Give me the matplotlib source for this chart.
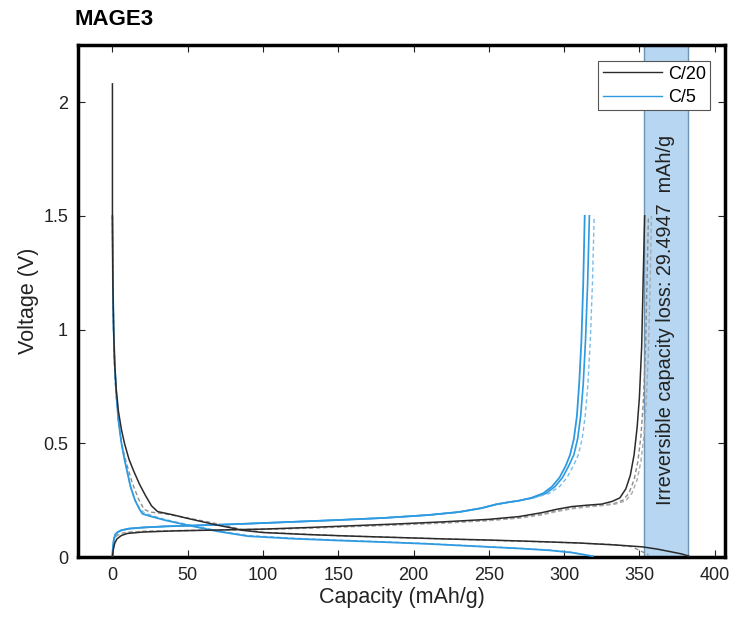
import matplotlib
matplotlib.use('Agg')
import matplotlib.pyplot as plt
from matplotlib.lines import Line2D

plt.rcParams['font.family'] = ['Liberation Sans', 'DejaVu Sans']

# C/20, cycle 1 (solid black)
c20_dis1_cap = [0, 0, 0.3, 0.8, 1.5, 2.5, 4, 6, 8, 11, 14, 18, 22, 26, 30, 40, 50, 60, 70, 80, 86,
                100, 130, 160, 190, 220, 250, 280, 310, 335, 352, 362, 372, 378, 383]
c20_dis1_v = [2.08, 1.5, 1.2, 1.0, 0.85, 0.74, 0.64, 0.56, 0.5, 0.43, 0.38, 0.32, 0.27, 0.225, 0.2, 0.186,
              0.17, 0.155, 0.14, 0.127, 0.118, 0.108, 0.099, 0.092, 0.086, 0.08, 0.075, 0.069, 0.062, 0.053,
              0.045, 0.035, 0.022, 0.014, 0.004]
c20_chg1_cap = [0, 0.5, 1.5, 3, 6, 10, 20, 40, 70, 100, 130, 160, 190, 220, 250, 270, 285, 295, 305,
                315, 325, 332, 337, 341, 344, 346.5, 348.5, 350, 351.5, 352.8, 353.5]
c20_chg1_v = [0.0, 0.03, 0.06, 0.08, 0.095, 0.104, 0.11, 0.115, 0.119, 0.123, 0.13, 0.138, 0.146, 0.155,
              0.166, 0.178, 0.195, 0.21, 0.222, 0.228, 0.233, 0.245, 0.26, 0.3, 0.36, 0.45, 0.57, 0.7,
              0.92, 1.3, 1.5]

# C/20, later cycles (dashed grey)
c20_dis2_cap = [0, 0.3, 1, 2, 4, 6, 9, 13, 17, 21, 25, 35, 50, 70, 86, 100, 150, 200, 250, 300, 330, 345, 356]
c20_dis2_v = [1.5, 1.2, 0.9, 0.75, 0.6, 0.5, 0.42, 0.33, 0.26, 0.21, 0.198, 0.19, 0.172, 0.146, 0.121,
              0.109, 0.094, 0.084, 0.074, 0.064, 0.056, 0.046, 0.01]
c20_chg2_cap = [0, 0.5, 1.5, 3, 6, 10, 20, 40, 70, 100, 130, 160, 190, 220, 250, 270, 285, 295, 305,
                315, 325, 333, 339, 343, 346.5, 349, 351, 352.5, 354, 355.2, 356]
c20_chg2_v = [0.0, 0.05, 0.08, 0.095, 0.104, 0.109, 0.113, 0.116, 0.119, 0.122, 0.128, 0.135, 0.143, 0.151,
              0.162, 0.173, 0.188, 0.203, 0.215, 0.222, 0.228, 0.235, 0.25, 0.28, 0.34, 0.42, 0.53, 0.67,
              0.9, 1.25, 1.5]
c20_chg3_cap = [0, 0.5, 1.5, 3, 6, 10, 20, 40, 70, 100, 130, 160, 190, 220, 250, 270, 285, 295, 305,
                315, 325, 334, 341, 345, 348.5, 351, 353, 354.5, 356, 357.3, 358]
c20_chg3_v = [0.0, 0.05, 0.08, 0.095, 0.104, 0.109, 0.113, 0.116, 0.119, 0.122, 0.127, 0.134, 0.141, 0.149,
              0.16, 0.171, 0.185, 0.2, 0.212, 0.22, 0.226, 0.233, 0.248, 0.28, 0.34, 0.42, 0.53, 0.67,
              0.9, 1.25, 1.5]

# C/5 cycles (blue)
c5_dis1_cap = [0, 0.3, 0.8, 1.5, 2.5, 4, 6, 8, 10, 12, 15, 18, 20, 25, 35, 50, 70, 90, 120, 150, 180,
               210, 240, 270, 290, 305, 319]
c5_dis1_v = [1.5, 1.2, 1.0, 0.85, 0.72, 0.6, 0.5, 0.43, 0.37, 0.31, 0.25, 0.21, 0.19, 0.18, 0.162, 0.14,
             0.113, 0.092, 0.081, 0.073, 0.066, 0.058, 0.048, 0.038, 0.03, 0.02, 0.004]
c5_chg1_cap = [0, 0.3, 1, 2, 3.5, 6, 11, 20, 35, 50, 70, 90, 120, 150, 180, 210, 230, 245, 255, 262,
               270, 278, 286, 292, 297, 301, 304, 306.5, 308.5, 310, 311.5, 312.7, 313.7]
c5_chg1_v = [0.0, 0.04, 0.08, 0.1, 0.11, 0.118, 0.125, 0.13, 0.135, 0.138, 0.142, 0.147, 0.155, 0.163,
             0.172, 0.185, 0.198, 0.215, 0.232, 0.24, 0.248, 0.26, 0.28, 0.31, 0.35, 0.4, 0.45, 0.52,
             0.62, 0.76, 0.95, 1.2, 1.5]
c5_dis2_cap = [0, 0.3, 0.8, 1.5, 2.5, 4, 6, 8, 10, 12, 15, 18, 21, 26, 35, 50, 70, 90, 120, 150, 180,
               210, 240, 270, 290, 305, 318]
c5_dis2_v = [1.5, 1.2, 1.0, 0.85, 0.72, 0.6, 0.5, 0.43, 0.37, 0.31, 0.25, 0.215, 0.195, 0.183, 0.165,
             0.143, 0.116, 0.095, 0.083, 0.075, 0.067, 0.059, 0.049, 0.039, 0.031, 0.021, 0.005]
c5_chg2_cap = [0, 0.3, 1, 2, 3.5, 6, 11, 20, 35, 50, 70, 90, 120, 150, 180, 210, 230, 245, 255, 262,
               270, 279, 288, 294, 299, 303, 306.5, 309, 311, 312.7, 314.2, 315.6, 316.8]
c5_chg2_v = [0.0, 0.04, 0.08, 0.1, 0.11, 0.118, 0.125, 0.13, 0.135, 0.138, 0.142, 0.147, 0.155, 0.163,
             0.172, 0.185, 0.198, 0.215, 0.232, 0.24, 0.248, 0.26, 0.28, 0.31, 0.35, 0.4, 0.45, 0.52,
             0.62, 0.76, 0.95, 1.2, 1.5]
c5_chg3_cap = [0, 0.3, 1, 2, 3.5, 6, 11, 20, 35, 50, 70, 90, 120, 150, 180, 210, 230, 245, 255, 262,
               270, 280, 290, 297, 302, 306, 309.5, 312, 314, 315.8, 317.4, 318.8, 320]
c5_chg3_v = c5_chg2_v

loss_start = 352.8
loss_end = 382.3
loss_text = 'Irreversible capacity loss: 29.4947  mAh/g'

black = '#2b2b2b'
grey = '#8c8c8c'
blue = '#2f9ae0'
lblue = '#78bdea'

fig = plt.figure(figsize=(7.34, 6.19), dpi=100)
ax = fig.add_axes([0.106, 0.100, 0.882, 0.827])

ax.axvspan(loss_start, loss_end, facecolor='#b6d6f1', edgecolor='#6f93b3', linewidth=1.0, zorder=0)

ax.plot(c20_dis2_cap, c20_dis2_v, color=grey, lw=1.0, ls=(0, (3, 2)), zorder=2)
ax.plot(c20_chg2_cap, c20_chg2_v, color=grey, lw=1.0, ls=(0, (3, 2)), zorder=2)
ax.plot(c20_chg3_cap, c20_chg3_v, color='#aaaaaa', lw=1.0, ls=(0, (3, 2)), zorder=2)

ax.plot(c5_dis2_cap, c5_dis2_v, color=lblue, lw=1.0, ls=(0, (3, 2)), zorder=2)
ax.plot(c5_chg2_cap, c5_chg2_v, color=blue, lw=1.2, zorder=2)
ax.plot(c5_chg3_cap, c5_chg3_v, color=lblue, lw=1.0, ls=(0, (3, 2)), zorder=2)
ax.plot(c5_dis1_cap, c5_dis1_v, color=blue, lw=1.3, zorder=3)
ax.plot(c5_chg1_cap, c5_chg1_v, color=blue, lw=1.3, zorder=3)

ax.plot(c20_dis1_cap, c20_dis1_v, color=black, lw=1.1, zorder=4)
ax.plot(c20_chg1_cap, c20_chg1_v, color=black, lw=1.1, zorder=4)

ax.text((loss_start + loss_end) / 2, 0.228, loss_text, rotation=90, ha='center', va='bottom',
        fontsize=14.3, color='#222222', zorder=5)

ax.set_xlim(-23, 407)
ax.set_ylim(0, 2.25)
ax.set_xticks([0, 50, 100, 150, 200, 250, 300, 350, 400])
ax.set_yticks([0, 0.5, 1, 1.5, 2])
ax.set_yticklabels(['0', '0.5', '1', '1.5', '2'])
ax.tick_params(direction='in', top=True, right=True, length=5, width=0.8, labelsize=13,
               colors='#222222', pad=7)
for s in ax.spines.values():
    s.set_linewidth(2.5)
    s.set_color('black')

ax.set_xlabel('Capacity (mAh/g)', fontsize=15.5, color='#222222', labelpad=2)
ax.set_ylabel('Voltage (V)', fontsize=15.5, color='#222222', labelpad=3)
fig.text(0.102, 0.952, 'MAGE3', fontsize=16, fontweight='bold', ha='left', va='bottom')

handles = [Line2D([], [], color=black, lw=1.0), Line2D([], [], color=blue, lw=1.0)]
leg = ax.legend(handles, ['C/20', 'C/5'], loc='upper right', bbox_to_anchor=(0.977, 0.969),
                borderaxespad=0, fontsize=13, fancybox=False, edgecolor='#555555', framealpha=1,
                handlelength=3.3, borderpad=0.25, labelspacing=0.35, handletextpad=0.3)
leg.get_frame().set_linewidth(0.8)

fig.savefig('out.png', dpi=100)
